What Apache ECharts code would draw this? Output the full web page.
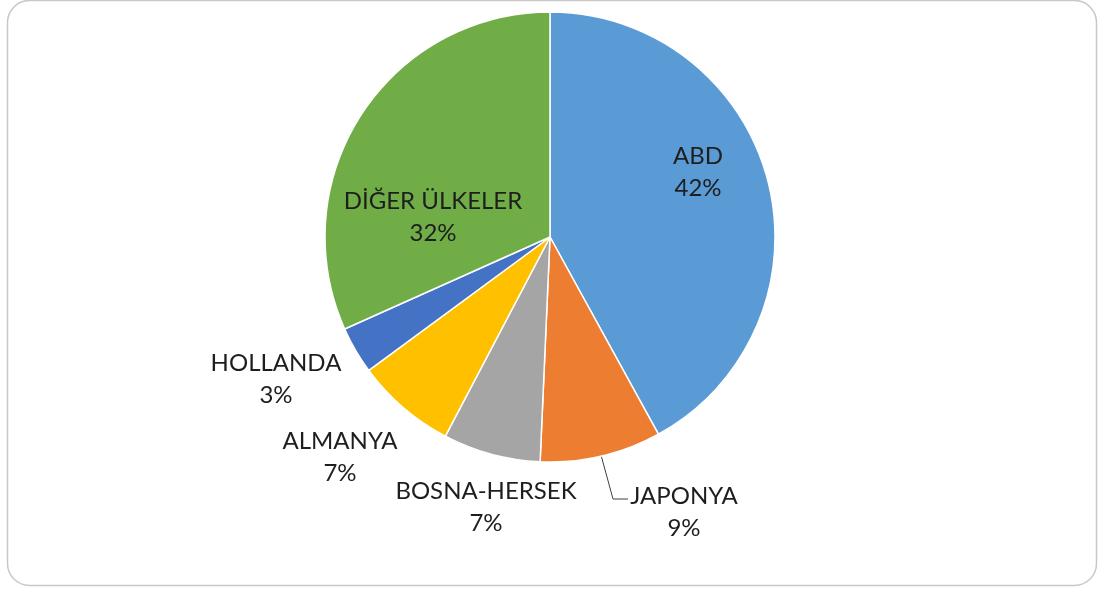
<!DOCTYPE html>
<html><head><meta charset="utf-8">
<script src="https://cdn.jsdelivr.net/npm/echarts@6/dist/echarts.min.js"></script>
<style>html,body{margin:0;padding:0;background:#fff}#c{width:1100px;height:590px}</style>
</head><body><div id="c"></div>
<script>
const categories = ['ABD', 'JAPONYA', 'BOSNA-HERSEK', 'ALMANYA', 'HOLLANDA', 'DİĞER ÜLKELER'];
const values = [42.0, 8.7, 7.0, 7.2, 3.4, 31.7];
const colors = ['#5B9BD5', '#ED7D31', '#A5A5A5', '#FFC000', '#4472C4', '#70AD47'];
// label placement (layout only)
const labelPos = [[698,172],[684,512],[486,507],[340,457],[276,379],[433,217]];
const chart = echarts.init(document.getElementById('c'));
chart.setOption({
  animation: false,
  graphic: [{type:'rect', shape:{x:7.5,y:0.5,width:1089,height:585,r:22}, style:{fill:'none',stroke:'#c8c8c8',lineWidth:1.5}, z:-1}],
  series: [{
    type: 'pie',
    center: [550, 237],
    radius: 225,
    startAngle: 90,
    clockwise: true,
    percentPrecision: 0,
    avoidLabelOverlap: false,
    itemStyle: {borderColor:'#fff', borderWidth:1.5},
    label: {show:true, formatter:'{b}\n{d}%', fontFamily:'Lato', fontSize:24, lineHeight:32, color:'#1e1e1e', align:'center'},
    labelLine: {show:false},
    data: categories.map((c,i)=>({name:c, value:values[i], itemStyle:{color:colors[i]},
      labelLine: i===1 ? {show:true, lineStyle:{color:'#404040', width:1}} : {show:false}})),
  }],
  });
chart.setOption({series:[{labelLayout: function(p){
  const pos = labelPos[p.dataIndex];
  const r = {x: pos[0], y: pos[1], align:'center', verticalAlign:'middle'};
  if (p.dataIndex === 1) r.labelLinePoints = [[601,455],[613,499],[628,499]];
  return r;
}}]});
</script></body></html>
